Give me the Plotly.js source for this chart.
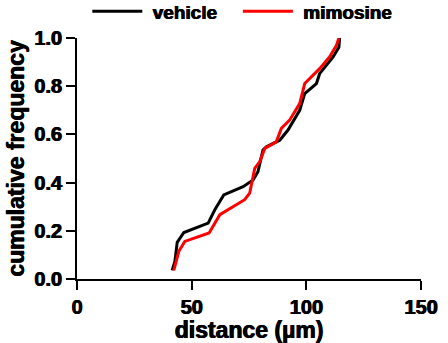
<!DOCTYPE html>
<html><head><meta charset="utf-8">
<script src="https://cdn.plot.ly/plotly-3.0.1.min.js"></script>
<style>html,body{margin:0;padding:0;background:#fff}#c{width:448px;height:343px}</style>
</head><body><div id="c"></div>
<script>
const vehicleX = [41.5,42.7,43.7,46.6,57.2,60.1,64.0,72.4,76.8,78.9,81.1,82.6,88.4,92.0,97.1,99.3,104.4,105.8,111.6,114.2,114.5];
const vehicleY = [0.036,0.074,0.152,0.193,0.232,0.287,0.349,0.383,0.411,0.445,0.535,0.549,0.576,0.618,0.700,0.769,0.811,0.852,0.921,0.962,1.0];
const mimosineX = [42.2,44.4,47.0,57.6,62.3,73.1,75.3,76.5,77.5,79.7,80.8,81.9,86.9,88.4,89.1,92.7,97.1,99.3,105.8,110.1,113.1,114.2];
const mimosineY = [0.036,0.115,0.156,0.191,0.267,0.329,0.356,0.411,0.459,0.487,0.514,0.542,0.569,0.604,0.625,0.659,0.728,0.811,0.873,0.921,0.969,1.0];
const xTicks = [0,50,100,150];
const xTickText = ['0','50','100','150'];
const yTicks = [0,0.2,0.4,0.6,0.8,1.0];
const yTickText = ['0.0','0.2','0.4','0.6','0.8','1.0'];

const F = 'Liberation Sans';
const SH = '0.6px 0 0 #000, -0.3px 0 0 #000';
const data = [
  {x: vehicleX, y: vehicleY, mode:'lines', name:'\u00a0vehicle\u00a0\u00a0\u00a0', line:{color:'#000000', width:3}},
  {x: mimosineX, y: mimosineY, mode:'lines', name:'\u00a0mimosine', line:{color:'#ff0000', width:3}}
];
const layout = {
  width:448, height:343,
  font:{family:F, weight:'bold', color:'#000'},
  margin:{l:77, r:26.5, t:37.5, b:63.5, autoexpand:false},
  paper_bgcolor:'#fff', plot_bgcolor:'#fff',
  showlegend:true,
  legend:{orientation:'h', x:0.030, y:1.11, xanchor:'left', yanchor:'middle', itemwidth:50,
          font:{family:F, size:19, color:'#000', weight:700, shadow:SH}, bgcolor:'rgba(0,0,0,0)'},
  xaxis:{range:[0,150], tickvals:xTicks, ticktext:xTickText, showgrid:false, zeroline:false, automargin:false,
         showline:true, linecolor:'#000', linewidth:2, ticks:'outside', ticklen:9, tickwidth:2, tickcolor:'#000',
         tickfont:{family:F, size:20, color:'#000', weight:'bold', shadow:SH},
         title:{text:'distance (µm)', font:{family:F, size:23, color:'#000', weight:700, shadow:SH}, standoff:1}},
  yaxis:{range:[0,1], tickvals:yTicks, ticktext:yTickText, showgrid:false, zeroline:false, automargin:false,
         showline:true, linecolor:'#000', linewidth:2, ticks:'outside', ticklen:9, tickwidth:2, tickcolor:'#000',
         tickfont:{family:F, size:20, color:'#000', weight:'bold', shadow:SH},
         title:{text:'cumulative frequency', font:{family:F, size:23, color:'#000', weight:700, shadow:SH}, standoff:3}}
};
Plotly.newPlot('c', data, layout, {displayModeBar:false, staticPlot:true});
</script></body></html>
